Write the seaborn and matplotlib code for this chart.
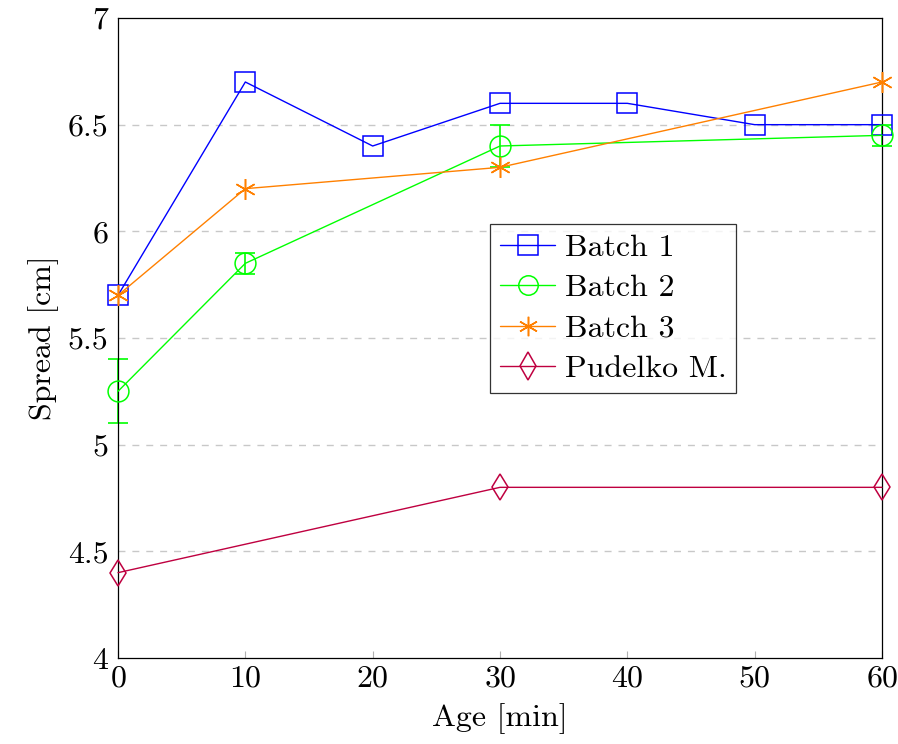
import matplotlib
matplotlib.use("Agg")
import matplotlib.pyplot as plt
import seaborn as sns
import pandas as pd
import numpy as np

sns.set_theme(style="white")
plt.rcParams['font.family'] = ['cmr10', 'DejaVu Serif']
plt.rcParams['mathtext.fontset'] = 'cm'
plt.rcParams['axes.formatter.use_mathtext'] = True
plt.rcParams['text.color'] = 'black'
plt.rcParams['axes.labelcolor'] = 'black'

age_b1 = [0, 10, 20, 30, 40, 50, 60]
spread_b1 = [5.7, 6.7, 6.4, 6.6, 6.6, 6.5, 6.5]

age_b2 = [0, 10, 30, 60]
spread_b2 = [5.25, 5.85, 6.4, 6.45]
err_b2 = [0.15, 0.05, 0.1, 0.05]

age_b3 = [0, 10, 30, 60]
spread_b3 = [5.7, 6.2, 6.3, 6.7]

age_p = [0, 30, 60]
spread_p = [4.4, 4.8, 4.8]

names = ["Batch 1", "Batch 2", "Batch 3", "Pudelko M."]
colors = ["#0000ff", "#00ff00", "#ff8000", "#bf0040"]

FS = 23

fig = plt.figure(figsize=(8.98, 7.44), dpi=100)
ax = fig.add_axes([118/898, 1-658/744, (882-118)/898, (658-18)/744])

for yv in [4.5, 5, 5.5, 6, 6.5]:
    ax.axhline(yv, color="#c8c8c8", lw=1, ls=(0, (5, 5)), zorder=0)

series = [
    (age_b1, spread_b1, "s", 14, None),
    (age_b2, spread_b2, "o", 15, err_b2),
    (age_b3, spread_b3, (6, 2, 0), 15, None),
    (age_p, spread_p, "d", 13, None),
]
for (x, y, m, ms, err), name, c in zip(series, names, colors):
    df = pd.DataFrame({"Age": x, "Spread": y})
    if err is not None:
        ax.errorbar(x, y, yerr=err, fmt="none", ecolor=c, elinewidth=1.2,
                    capsize=7, capthick=1.2, zorder=2, clip_on=False)
    sns.lineplot(data=df, x="Age", y="Spread", ax=ax, color=c, lw=1,
                 marker=m, markersize=ms, markerfacecolor="none",
                 markeredgecolor=c, markeredgewidth=1.1, label=name, zorder=3,
                 clip_on=False)

ax.set_xlim(0, 60)
ax.set_ylim(4, 7)
ax.set_xticks([0, 10, 20, 30, 40, 50, 60])
ax.set_yticks([4, 4.5, 5, 5.5, 6, 6.5, 7])
ax.set_yticklabels(["4", "4.5", "5", "5.5", "6", "6.5", "7"])
ax.tick_params(axis="x", direction="in", length=5, width=0.8, labelsize=FS,
               top=False, bottom=True, colors="#b0b0b0", labelcolor="black", pad=5)
ax.tick_params(axis="y", direction="in", length=0, labelsize=FS,
               labelcolor="black", pad=7)
for sp in ax.spines.values():
    sp.set_color("black")
    sp.set_linewidth(0.9)
ax.set_xlabel("Age [min]", fontsize=FS, labelpad=8)
ax.set_ylabel("Spread [cm]", fontsize=FS, labelpad=6)

leg = ax.legend(loc="upper left", bbox_to_anchor=((490-118)/764, 1-(224-18)/640),
                fontsize=FS, frameon=True, fancybox=False, edgecolor="black",
                handlelength=1.75, borderpad=0.3, labelspacing=0.38,
                handletextpad=0.3, borderaxespad=0)
leg.get_frame().set_linewidth(0.9)
for lh in leg.get_lines():
    lh.set_markersize(14)

fig.savefig("out.png", dpi=100)
